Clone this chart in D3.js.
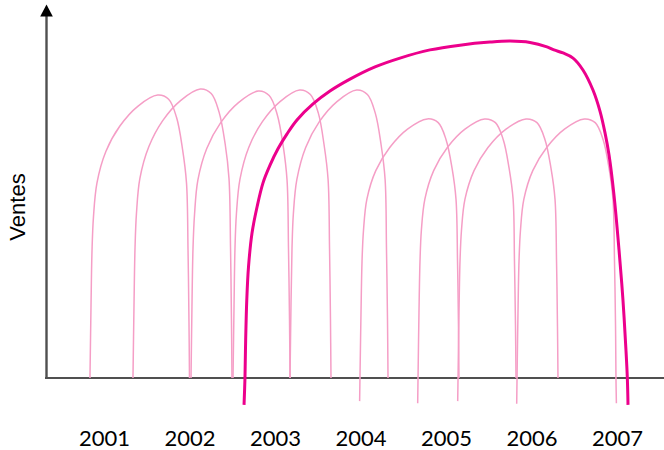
<!DOCTYPE html>
<html><head><meta charset="utf-8">
<script src="https://cdn.jsdelivr.net/npm/d3@7"></script>
<style>html,body{margin:0;padding:0;background:#fff;}svg{display:block;}</style>
</head><body>
<svg id="chart" width="664" height="450"></svg>
<script>
// ---- data (year, sales in arbitrary units) ----
const years = [2001, 2002, 2003, 2004, 2005, 2006, 2007];
const yTitle = "Ventes";

const cycleA = [[2000.830,0],[2000.842,20.8],[2000.854,37.5],[2000.871,47.4],[2000.912,57.4],[2001.016,66.6],[2001.180,74.1],[2001.389,79.9],[2001.622,83.2],[2001.750,82.0],[2001.843,76.6],[2001.912,67.4],[2001.959,57.4],[2001.977,37.5],[2001.988,16.6],[2001.994,0]];
const cycleB = [[2001.333,0],[2001.345,21.3],[2001.357,38.3],[2001.374,48.5],[2001.414,58.7],[2001.518,68.0],[2001.681,75.7],[2001.889,81.6],[2002.120,85.0],[2002.248,83.7],[2002.340,78.2],[2002.411,68.9],[2002.456,58.7],[2002.474,38.3],[2002.485,17.0],[2002.491,0]];
const cycleC = [[2002.012,0],[2002.023,21.1],[2002.035,38.0],[2002.053,48.1],[2002.092,58.2],[2002.196,67.5],[2002.359,75.1],[2002.567,81.0],[2002.799,84.4],[2002.926,83.1],[2003.019,77.6],[2003.089,68.4],[2003.135,58.2],[2003.152,38.0],[2003.164,16.9],[2003.170,0]];
const cycleD = [[2002.503,0],[2002.515,21.2],[2002.526,38.1],[2002.543,48.3],[2002.584,58.4],[2002.687,67.8],[2002.847,75.4],[2003.053,81.3],[2003.282,84.7],[2003.408,83.4],[2003.501,77.9],[2003.568,68.6],[2003.615,58.4],[2003.632,38.1],[2003.643,16.9],[2003.649,0]];
const cycleE = [[2003.170,0],[2003.181,21.2],[2003.193,38.1],[2003.209,48.3],[2003.250,58.4],[2003.353,67.8],[2003.513,75.4],[2003.719,81.3],[2003.949,84.7],[2004.075,83.4],[2004.167,77.9],[2004.235,68.6],[2004.282,58.4],[2004.298,38.1],[2004.310,16.9],[2004.316,0]];
const cycleF = [[2003.984,-6.8],[2003.988,0],[2004.000,19.1],[2004.012,34.3],[2004.029,43.4],[2004.069,52.6],[2004.173,61.0],[2004.336,67.8],[2004.544,73.2],[2004.775,76.2],[2004.903,75.1],[2004.995,70.1],[2005.065,61.7],[2005.111,52.6],[2005.129,34.3],[2005.140,15.2],[2005.146,0]];
const cycleG = [[2004.663,-7.4],[2004.667,0],[2004.678,19.1],[2004.690,34.3],[2004.706,43.4],[2004.747,52.6],[2004.850,61.0],[2005.010,67.8],[2005.216,73.2],[2005.446,76.2],[2005.572,75.1],[2005.664,70.1],[2005.732,61.7],[2005.779,52.6],[2005.795,34.3],[2005.807,15.2],[2005.813,0]];
const cycleH = [[2005.131,-6.8],[2005.135,0],[2005.146,19.1],[2005.158,34.3],[2005.175,43.4],[2005.216,52.6],[2005.322,61.0],[2005.485,67.8],[2005.696,73.2],[2005.930,76.2],[2006.058,75.1],[2006.152,70.1],[2006.222,61.7],[2006.269,52.6],[2006.287,34.3],[2006.298,15.2],[2006.304,0]];
const cycleI = [[2005.821,-7.6],[2005.825,0],[2005.836,19.1],[2005.848,34.3],[2005.865,43.4],[2005.905,52.6],[2006.009,61.0],[2006.172,67.8],[2006.380,73.2],[2006.612,76.2],[2006.739,75.1],[2006.832,70.1],[2006.901,61.7],[2006.947,52.6],[2006.965,34.3],[2006.977,15.2],[2006.982,0],[2006.987,-7.4]];
const totalCycle = [[2002.632,-7.9],[2002.643,0],[2002.651,11.2],[2002.664,22.9],[2002.684,32.6],[2002.725,42.6],[2002.784,50.3],[2002.854,57.4],[2002.936,62.6],[2003.029,67.4],[2003.135,71.8],[2003.251,75.9],[2003.439,80.6],[2003.637,84.4],[2003.871,87.9],[2004.164,91.5],[2004.456,94.1],[2004.807,96.5],[2005.158,97.9],[2005.509,98.8],[2005.743,99.1],[2005.977,98.7],[2006.175,97.4],[2006.257,96.5],[2006.363,95.6],[2006.480,94.1],[2006.596,90.6],[2006.713,84.7],[2006.795,78.5],[2006.854,72.1],[2006.901,65.6],[2006.959,53.8],[2007.018,37.6],[2007.064,22.9],[2007.099,8.2],[2007.115,0],[2007.123,-7.9]];

const productCycles = [cycleA, cycleB, cycleC, cycleD, cycleE, cycleF, cycleG, cycleH, cycleI];

// ---- drawing ----
const svg = d3.select("#chart");
const x = d3.scaleLinear().domain([2000, 2008]).range([19, 703]);
const y = d3.scaleLinear().domain([0, 100]).range([378, 38]);

const axisColor = "#505050";
const lightPink = "#f59ec6";
const magenta = "#ec008c";

const line = d3.line()
  .x(d => x(d[0]))
  .y(d => y(d[1]))
  .curve(d3.curveCatmullRom.alpha(0.5));

// axes
const yAxisX = 46.5;
svg.append("line")
  .attr("x1", 45).attr("x2", 664)
  .attr("y1", y(0)).attr("y2", y(0))
  .attr("stroke", axisColor).attr("stroke-width", 2.2);
svg.append("line")
  .attr("x1", yAxisX).attr("x2", yAxisX)
  .attr("y1", 15).attr("y2", y(0) + 1)
  .attr("stroke", axisColor).attr("stroke-width", 2.4);
svg.append("path")
  .attr("d", `M${yAxisX},4.5 L${yAxisX + 6.3},16.5 L${yAxisX - 6.3},16.5 Z`)
  .attr("fill", "#000");

// product life cycles
svg.append("g").selectAll("path")
  .data(productCycles)
  .join("path")
  .attr("d", line)
  .attr("fill", "none")
  .attr("stroke", lightPink)
  .attr("stroke-width", 1.5);

// overall cycle
svg.append("path")
  .datum(totalCycle)
  .attr("d", line)
  .attr("fill", "none")
  .attr("stroke", magenta)
  .attr("stroke-width", 3);

// year labels
svg.append("g").selectAll("text")
  .data(years)
  .join("text")
  .attr("x", d => x(d))
  .attr("y", 445.5)
  .attr("text-anchor", "middle")
  .attr("font-family", "Lato, 'Open Sans', sans-serif")
  .attr("font-size", 22)
  .attr("fill", "#000")
  .text(d => d);

// y title
svg.append("text")
  .attr("transform", "translate(25,207) rotate(-90)")
  .attr("text-anchor", "middle")
  .attr("font-family", "'Liberation Sans', Arial, sans-serif")
  .attr("font-size", 22)
  .attr("fill", "#000")
  .text(yTitle);
</script>
</body></html>
